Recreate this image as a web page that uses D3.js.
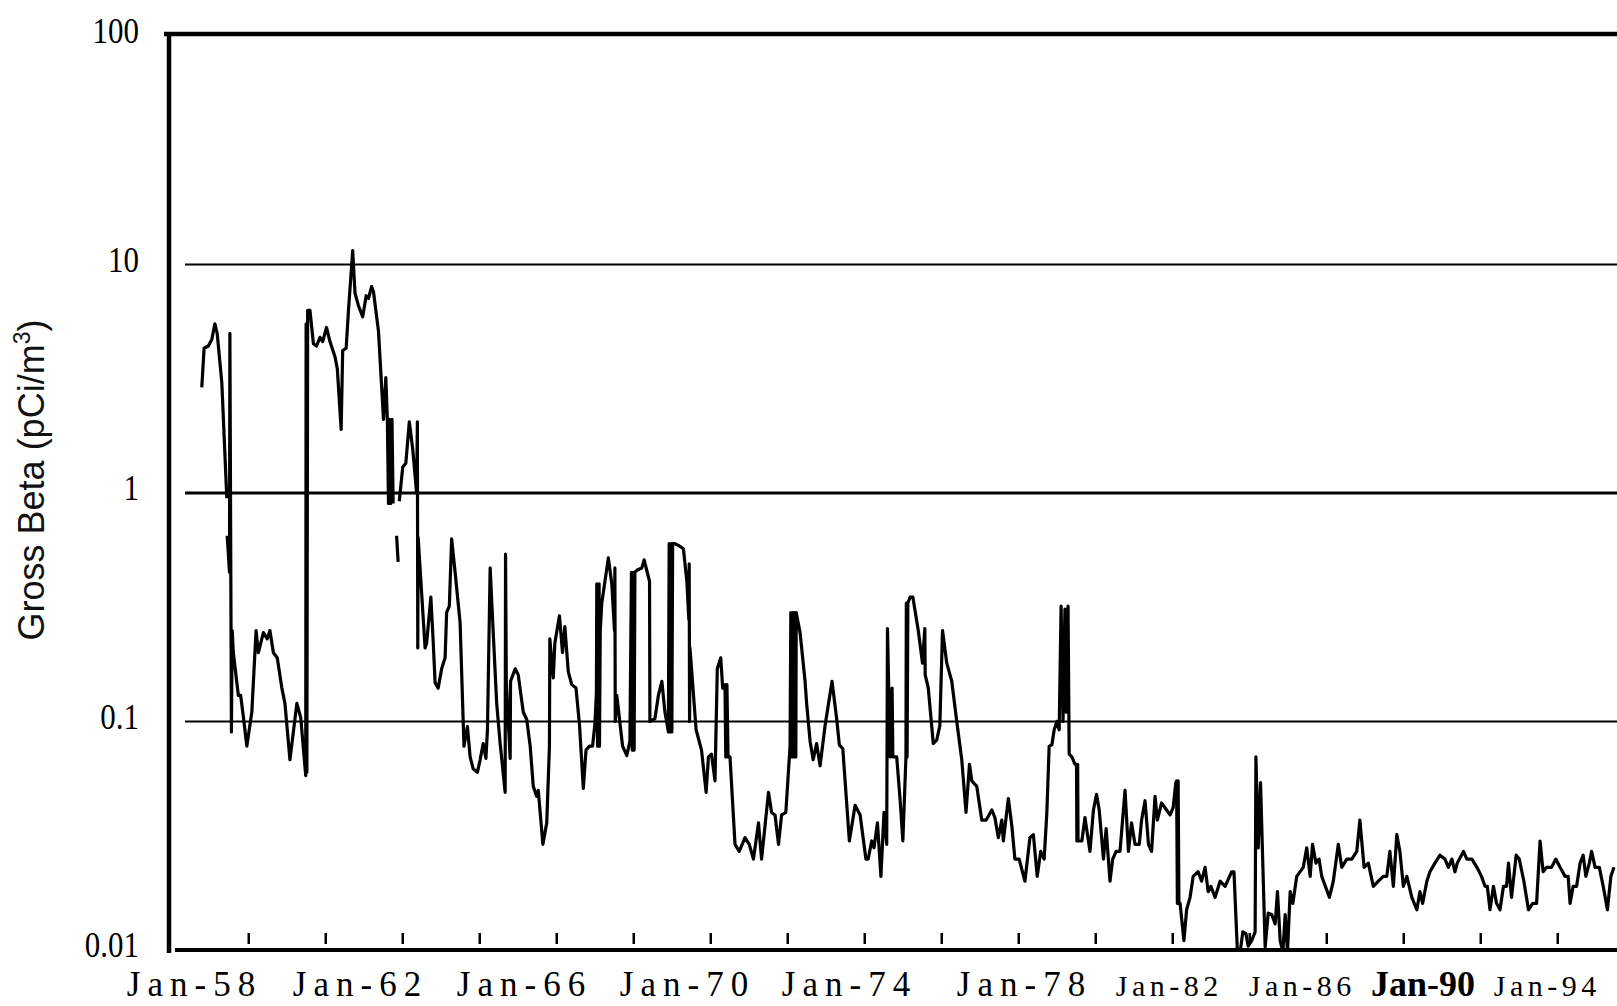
<!DOCTYPE html>
<html>
<head>
<meta charset="utf-8">
<script src="https://cdn.jsdelivr.net/npm/d3@7"></script>
<style>
  html, body { margin: 0; padding: 0; background: #fff; }
  svg { display: block; }
</style>
</head>
<body>
<svg id="chart" width="1617" height="1006"></svg>
<script>
// ---------------- DATA ----------------
// Sample dates in decimal years and gross beta concentration (pCi/m3); null = gap in record
const sampleYear = [
1958.28,1958.34,1958.45,1958.54,1958.62,1958.68,1958.80,1958.93,1958.935,
1958.94,1959.00,1959.01,1959.05,1959.07,1959.10,1959.23,1959.29,1959.36,1959.45,
1959.58,1959.69,1959.75,1959.88,1959.98,1960.05,1960.14,1960.24,1960.36,1960.44,
1960.57,1960.75,1960.85,1960.98,1960.99,1961.01,1961.03,1961.09,1961.18,1961.26,
1961.35,1961.42,1961.52,1961.61,1961.74,1961.80,1961.90,1961.94,1962.03,1962.09,
1962.20,1962.26,1962.35,1962.46,1962.55,1962.61,1962.69,1962.74,1962.87,1963.00,
1963.06,1963.10,1963.13,1963.16,1963.19,1963.22,1963.25,1963.30,
1963.34,1963.38,1963.40,
1963.41,1963.50,1963.58,1963.67,1963.76,1963.86,1963.88,1963.89,1963.90,
1964.08,1964.12,1964.23,1964.29,1964.34,1964.42,1964.51,1964.60,1964.64,1964.71,
1964.77,1964.86,1964.99,1965.09,1965.18,1965.25,1965.33,1965.44,1965.51,1965.59,
1965.66,1965.70,1965.77,1965.85,1965.94,1966.03,1966.16,1966.17,1966.19,1966.29,
1966.30,1966.42,1966.50,1966.63,1966.72,1966.81,1966.89,1966.98,1967.02,1967.14,
1967.24,1967.31,1967.32,1967.41,1967.45,1967.57,1967.65,1967.71,1967.80,1967.89,
1968.00,1968.09,1968.19,1968.26,1968.35,1968.43,1968.49,1968.53,1968.54,1968.56,
1968.60,1968.61,1968.63,1968.67,1968.84,1968.93,1969.00,1969.01,1969.02,1969.06,
1969.21,1969.32,1969.40,1969.44,1969.46,1969.49,1969.51,1969.53,1969.59,1969.71,
1969.77,1969.85,1969.91,1969.92,1970.05,1970.14,1970.23,1970.31,1970.40,1970.42,
1970.44,1970.47,1970.49,1970.51,1970.57,1970.66,1970.79,1970.88,1970.93,1970.94,
1970.95,1970.96,1971.12,1971.26,1971.38,1971.44,1971.52,1971.61,1971.67,1971.76,
1971.81,1971.87,1971.89,1971.92,1971.95,1972.00,1972.13,1972.24,1972.39,1972.50,
1972.61,1972.74,1972.82,1973.00,1973.08,1973.17,1973.26,1973.34,1973.45,1973.56,
1973.58,1973.60,1973.63,1973.65,1973.68,1973.71,1973.72,1973.82,1973.95,1973.99,
1974.08,1974.16,1974.25,1974.34,1974.47,1974.65,1974.77,1974.84,1974.93,1975.10,
1975.25,1975.38,1975.53,1975.59,1975.68,1975.74,1975.83,1975.92,1976.00,1976.07,
1976.09,1976.16,1976.21,1976.23,1976.33,1976.42,1976.49,1976.57,1976.58,1976.60,
1976.62,1976.68,1976.75,1976.89,1977.00,1977.06,1977.07,1977.15,1977.28,1977.37,
1977.45,1977.52,1977.63,1977.76,1977.89,1978.02,1978.13,1978.22,1978.28,1978.41,
1978.54,1978.65,1978.80,1978.88,1978.97,1979.06,1979.10,1979.23,1979.32,1979.40,
1979.51,1979.66,1979.79,1979.88,1979.98,1980.07,1980.16,1980.23,1980.29,1980.36,
1980.42,1980.49,1980.55,1980.60,1980.65,1980.70,1980.73,1980.78,1980.81,1980.88,
1980.96,1981.00,1981.01,1981.03,1981.04,1981.14,1981.22,1981.35,1981.44,1981.52,
1981.59,1981.70,1981.77,1981.87,1981.94,1982.03,1982.13,1982.26,1982.35,1982.43,
1982.52,1982.63,1982.69,1982.78,1982.87,1982.95,1983.04,1983.10,1983.21,1983.34,
1983.43,1983.51,1983.58,1983.60,1983.62,1983.64,1983.66,1983.69,1983.79,1983.86,
1983.95,1984.03,1984.16,1984.25,1984.34,1984.42,1984.49,1984.60,1984.73,1984.86,
1985.03,1985.09,1985.18,1985.25,1985.32,1985.40,1985.46,1985.55,1985.64,1985.66,
1985.72,1985.78,1985.90,1985.98,1986.07,1986.16,1986.22,1986.29,1986.36,1986.42,
1986.48,1986.55,1986.62,1986.72,1986.89,1986.98,1987.07,1987.13,1987.22,1987.30,
1987.37,1987.57,1987.67,1987.80,1987.89,1988.02,1988.15,1988.28,1988.36,1988.47,
1988.58,1988.71,1988.84,1988.97,1989.06,1989.14,1989.23,1989.32,1989.40,1989.49,
1989.58,1989.71,1989.84,1989.92,1989.99,1990.10,1990.18,1990.31,1990.44,1990.57,
1990.66,1990.75,1990.83,1990.89,1991.05,1991.14,1991.27,1991.40,1991.52,1991.61,
1991.67,1991.74,1991.83,1991.91,1992.00,1992.09,1992.17,1992.22,1992.30,1992.42,
1992.50,1992.62,1992.74,1992.85,1992.95,1993.04,1993.12,1993.21,1993.34,1993.45,
1993.56,1993.69,1993.77,1993.82,1993.90,1993.99,1994.08,1994.16,1994.23,1994.32,
1994.38,1994.47,1994.58,1994.68,1994.79,1994.88,1994.96
];
const grossBeta = [
2.9,4.3,4.4,4.7,5.5,5.0,3.05,0.95,null,
0.65,0.45,5.0,0.09,0.25,0.2,0.13,0.13,0.105,0.078,
0.11,0.25,0.2,0.245,0.23,0.25,0.2,0.19,0.14,0.12,
0.068,0.12,0.104,0.058,5.5,0.06,6.3,6.3,4.5,4.4,
4.8,4.6,5.3,4.6,3.95,3.5,1.9,4.2,4.3,6.3,
11.5,7.5,6.6,5.9,7.3,7.1,8.0,7.6,5.1,2.1,
3.2,2.1,0.9,2.1,0.9,2.1,0.9,null,
0.65,0.5,null,
0.92,1.3,1.35,2.05,1.55,1.0,2.05,0.21,0.64,
0.21,0.22,0.35,0.225,0.148,0.14,0.17,0.19,0.3,0.32,
0.63,0.45,0.27,0.078,0.095,0.07,0.062,0.06,0.068,0.08,
0.069,0.092,0.47,0.245,0.12,0.08,0.049,0.54,0.148,0.069,
0.15,0.17,0.16,0.11,0.102,0.078,0.052,0.047,0.05,0.029,
0.036,0.078,0.23,0.155,0.22,0.29,0.2,0.26,0.165,0.145,
0.14,0.097,0.051,0.075,0.078,0.078,0.097,0.133,0.4,0.078,
0.4,0.078,0.25,0.33,0.52,0.4,0.25,0.47,0.1,0.13,
0.078,0.071,0.082,0.45,0.075,0.45,0.075,0.45,0.46,0.47,
0.51,0.45,0.41,0.1,0.103,0.13,0.15,0.11,0.09,0.6,
0.09,0.6,0.09,0.6,0.6,0.59,0.57,0.41,0.28,0.49,
0.1,0.21,0.092,0.075,0.049,0.07,0.072,0.055,0.17,0.19,
0.14,0.145,0.07,0.145,0.07,0.07,0.029,0.027,0.031,0.029,
0.025,0.036,0.025,0.049,0.04,0.039,0.029,0.039,0.04,0.078,
0.3,0.07,0.3,0.07,0.3,0.07,0.3,0.245,0.15,0.12,
0.082,0.068,0.08,0.064,0.096,0.15,0.103,0.079,0.076,0.03,
0.043,0.039,0.025,0.025,0.03,0.028,0.036,0.021,0.04,0.029,
0.255,0.07,0.14,0.07,0.07,0.045,0.03,0.07,0.33,0.07,
0.33,0.35,0.35,0.25,0.18,0.255,0.16,0.14,0.08,0.083,
0.096,0.25,0.18,0.15,0.1,0.068,0.04,0.065,0.055,0.052,
0.037,0.037,0.041,0.038,0.031,0.037,0.03,0.046,0.035,0.025,
0.025,0.02,0.031,0.032,0.021,0.027,0.025,0.04,0.078,0.079,
0.092,0.1,0.092,0.32,0.1,0.31,0.11,0.32,0.072,0.07,
0.065,0.065,0.03,0.065,0.03,0.03,0.038,0.027,0.041,0.048,
0.041,0.025,0.034,0.02,0.025,0.027,0.027,0.05,0.027,0.036,
0.029,0.029,0.037,0.045,0.029,0.027,0.047,0.037,0.044,0.041,
0.039,0.042,0.054,0.055,0.016,0.055,0.016,0.016,0.011,0.015,
0.017,0.021,0.022,0.02,0.023,0.018,0.019,0.017,0.02,0.019,
0.022,0.022,0.0098,0.0098,0.012,0.0118,0.0104,0.011,0.012,0.07,
0.028,0.054,0.0103,0.0145,0.0143,0.013,0.018,0.011,0.0098,0.0143,
0.0098,0.018,0.016,0.021,0.023,0.028,0.021,0.029,0.024,0.025,
0.021,0.017,0.02,0.029,0.023,0.025,0.025,0.027,0.037,0.023,
0.024,0.019,0.02,0.021,0.021,0.027,0.019,0.032,0.027,0.019,
0.021,0.017,0.015,0.018,0.016,0.02,0.022,0.024,0.026,0.025,
0.023,0.025,0.022,0.024,0.027,0.025,0.025,0.023,0.021,0.019,
0.019,0.015,0.019,0.016,0.015,0.019,0.019,0.024,0.017,0.026,
0.025,0.02,0.015,0.016,0.016,0.03,0.022,0.023,0.023,0.025,
0.023,0.021,0.021,0.016,0.019,0.019,0.024,0.026,0.021,0.024,
0.027,0.023,0.023,0.019,0.015,0.021,0.023
];
// y-axis (log) tick values and labels
const yTickValues = [100, 10, 1, 0.1, 0.01];
const yTickLabels = ["100", "10", "1", "0.1", "0.01"];
const gridValues = [10, 1, 0.1];
// x-axis minor tick marks (every two years, mid-year)
const xTickYears = [1959.5,1961.5,1963.5,1965.5,1967.5,1969.5,1971.5,1973.5,1975.5,
                    1977.5,1979.5,1981.5,1983.5,1985.5,1987.5,1989.5,1991.5,1993.5];
// x-axis category labels
const xLabels = ["Jan-58","Jan-62","Jan-66","Jan-70","Jan-74","Jan-78","Jan-82","Jan-86","Jan-90","Jan-94"];
const yTitle = "Gross Beta (pCi/m";

// ---------------- LAYOUT ----------------
const W = 1617, H = 1006;
const xLabelCenters = [191, 357, 521, 684, 846, 1021, 1167, 1300, 1423, 1545];
const xLabelStyle = [
  {size: 35, ls: 7, weight: "normal"}, {size: 35, ls: 7, weight: "normal"},
  {size: 35, ls: 7, weight: "normal"}, {size: 35, ls: 7, weight: "normal"},
  {size: 35, ls: 7, weight: "normal"}, {size: 35, ls: 7, weight: "normal"},
  {size: 30, ls: 4.5, weight: "normal"}, {size: 30, ls: 4.5, weight: "normal"},
  {size: 36, ls: 0, weight: "bold"},   {size: 30, ls: 4.5, weight: "normal"}
];

const svg = d3.select("#chart");
svg.append("rect").attr("width", W).attr("height", H).attr("fill", "#fff");

const x = d3.scaleLinear().domain([1958, 1996]).range([191, 191 + 38 * 38.5]);
const y = d3.scaleLog().domain([0.01, 100]).range([950, 36]);

// clip for plotted series
svg.append("defs").append("clipPath").attr("id", "plotClip")
  .append("rect").attr("x", 171).attr("y", y(100)).attr("width", W - 171).attr("height", y(0.01) - y(100));

// gridlines
svg.append("g").selectAll("line").data(gridValues).join("line")
  .attr("x1", 185).attr("x2", W)
  .attr("y1", d => y(d)).attr("y2", d => y(d))
  .attr("stroke", "#000")
  .attr("stroke-width", d => d === 1 ? 3 : 2);

// top border (100 line)
svg.append("line").attr("x1", 164).attr("x2", W)
  .attr("y1", y(100) - 2).attr("y2", y(100) - 2)
  .attr("stroke", "#000").attr("stroke-width", 4.5);

// left axis
svg.append("line").attr("x1", 169).attr("x2", 169)
  .attr("y1", y(100) - 4).attr("y2", y(0.01) + 3)
  .attr("stroke", "#000").attr("stroke-width", 4.5);

// bottom axis
svg.append("line").attr("x1", 175).attr("x2", W)
  .attr("y1", y(0.01)).attr("y2", y(0.01))
  .attr("stroke", "#000").attr("stroke-width", 4);

// x tick marks
svg.append("g").selectAll("line").data(xTickYears).join("line")
  .attr("x1", d => x(d)).attr("x2", d => x(d))
  .attr("y1", y(0.01) - 17).attr("y2", y(0.01) - 6)
  .attr("stroke", "#000").attr("stroke-width", 2.5);

// y tick labels
svg.append("g").selectAll("text").data(yTickValues).join("text")
  .attr("transform", d => `translate(139,${y(d) + 7}) scale(0.86,1)`)
  .attr("text-anchor", "end")
  .attr("font-family", "'Liberation Serif', 'Times New Roman', serif")
  .attr("font-size", 36)
  .attr("fill", "#000")
  .text((d, i) => yTickLabels[i]);

// x labels
svg.append("g").selectAll("text").data(xLabels).join("text")
  .attr("x", (d, i) => xLabelCenters[i] + xLabelStyle[i].ls / 2)
  .attr("y", 996)
  .attr("text-anchor", "middle")
  .attr("font-family", "'Liberation Serif', 'Times New Roman', serif")
  .attr("font-size", (d, i) => xLabelStyle[i].size)
  .attr("font-weight", (d, i) => xLabelStyle[i].weight)
  .attr("letter-spacing", (d, i) => xLabelStyle[i].ls)
  .attr("fill", "#000")
  .text(d => d);

// y title
const yt = svg.append("text")
  .attr("transform", "translate(44,480) rotate(-90)")
  .attr("text-anchor", "middle")
  .attr("font-family", "'Liberation Sans', Arial, sans-serif")
  .attr("font-size", 36)
  .attr("fill", "#111");
yt.append("tspan").text(yTitle);
yt.append("tspan").attr("dy", -14).attr("font-size", 23).text("3");
yt.append("tspan").attr("dy", 14).text(")");

// series
const series = sampleYear.map((yr, i) => ({year: yr, v: grossBeta[i]}));
const line = d3.line()
  .defined(d => d.v !== null)
  .x(d => x(d.year))
  .y(d => y(d.v));

svg.append("path")
  .datum(series)
  .attr("clip-path", "url(#plotClip)")
  .attr("fill", "none")
  .attr("stroke", "#000")
  .attr("stroke-width", 3.2)
  .attr("stroke-linejoin", "round")
  .attr("d", line);
</script>
</body>
</html>
